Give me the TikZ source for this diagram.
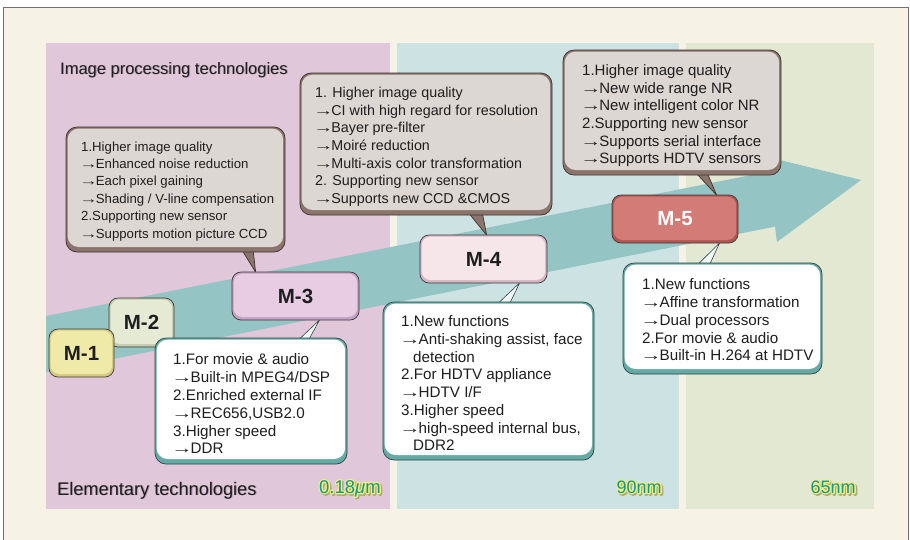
\documentclass[tikz,border=0pt]{standalone}
\usepackage{fontspec}
\usepackage{graphicx}
\setmainfont{Liberation Sans}
\usetikzlibrary{calc}
\pgfdeclarelayer{back}
\pgfdeclarelayer{tails}
\pgfsetlayers{back,tails,main}
\definecolor{cream}{HTML}{F6F2E6}
\definecolor{framegray}{HTML}{707070}
\definecolor{panelpink}{HTML}{E0C8DA}
\definecolor{panelteal}{HTML}{CCE2E3}
\definecolor{panelgreen}{HTML}{E3E8D2}
\definecolor{arrowteal}{HTML}{94C5C4}
\definecolor{grayout}{HTML}{3E322E}
\definecolor{grayband}{HTML}{8A746C}
\definecolor{grayfill}{HTML}{DDD7D4}
\definecolor{whiteout}{HTML}{2E4444}
\definecolor{whiteband}{HTML}{66AAA6}
\definecolor{tailwhite}{HTML}{F2F8F8}
\definecolor{mout}{HTML}{3A3A3A}
\definecolor{mAo}{HTML}{D6CA84}\definecolor{mAi}{HTML}{F0EAA8}
\definecolor{mBo}{HTML}{C4CCB0}\definecolor{mBi}{HTML}{E4EAD4}
\definecolor{mCo}{HTML}{C6A2C2}\definecolor{mCi}{HTML}{E7CCE3}
\definecolor{mDo}{HTML}{D6B6C2}\definecolor{mDi}{HTML}{F6E6EA}
\definecolor{mEo}{HTML}{B25654}\definecolor{mEi}{HTML}{D37B77}
\definecolor{txt}{HTML}{1E1E1E}
\definecolor{headshadow}{HTML}{A48EA0}
\definecolor{labteal}{HTML}{13968A}
\definecolor{haloY}{HTML}{F2EE84}
\definecolor{haloS}{HTML}{B0AA74}
\newcommand\strk[1]{\special{pdf:literal direct 2 Tr 2.6 w 1 j}#1\special{pdf:literal direct 0 Tr 1 w 0 j}}
\newcommand\halotxt[1]{%
  \rlap{\color{haloS}\hspace{1.5pt}\raisebox{-1.5pt}{\strk{#1}}}%
  \rlap{\color{haloY}\strk{#1}}%
  {\color{labteal}#1}}
\newcommand\shadowtxt[1]{\rlap{\color{headshadow}\hspace{0.9pt}\raisebox{-0.9pt}{#1}}{\color{txt}#1}}
\newcommand\ar{\kern-1.8pt\scalebox{1.4}[1]{→}\kern-2pt}
\tikzset{
  card/.style n args={5}{draw=#1, line width=0.7pt, fill=#2, rounded corners=#5, inner sep=0pt,
    path picture={\fill[#3, rounded corners=#5] ([shift={(1.6pt,-1.6pt)}]path picture bounding box.north west) rectangle ([shift={(-1.8pt,#4)}]path picture bounding box.south east);}},
  graycard/.style={card={grayout}{grayband}{grayfill}{5pt}{11pt}},
  whitecard/.style={card={whiteout}{whiteband}{white}{5pt}{11pt}},
  mnode/.style n args={2}{card={mout}{#1}{#2}{3pt}{9pt}, text=txt, font=\bfseries\fontsize{20.5}{24}\selectfont},
  boxtext/.style={anchor=north west, align=left, inner sep=0pt, text=txt},
  graytail/.style={fill=grayband, draw=grayout, line width=0.7pt, line join=round},
  whitetail/.style={fill=tailwhite, draw=whiteout, line width=0.6pt, line join=round},
}
\begin{document}
\begin{tikzpicture}[x=1pt,y=-1pt]
\useasboundingbox (0,0) rectangle (910,539);
\begin{pgfonlayer}{back}
\clip (0,0) rectangle (910,539);
\fill[white] (0,0) rectangle (910,539);
\draw[draw=framegray, line width=1.4pt, fill=cream] (3.5,7.5) rectangle (908.5,560);
\fill[panelpink] (46,43) rectangle (390,509);
\fill[panelteal] (397,43) rectangle (679,509);
\fill[panelgreen] (686,43) rectangle (874,509);
\fill[arrowteal] (46,316) -- (763,172.6) -- (759.5,155) -- (861,180) -- (777,242) -- (775,226.6) -- (46,372.4) -- cycle;
\end{pgfonlayer}

% headings and process labels
\node[anchor=base west, inner sep=0pt, font=\fontsize{16.5}{20}\selectfont] (h1) at (60,74) {\shadowtxt{Image processing technologies}};
\node[anchor=base west, inner sep=0pt, font=\fontsize{18.2}{22}\selectfont] (h2) at (57,495) {\shadowtxt{Elementary technologies}};
\node[anchor=base west, inner sep=0pt, font=\fontsize{18.5}{22}\selectfont] (p1) at (319,493) {\halotxt{0.18\textit{μ}m}};
\node[anchor=base west, inner sep=0pt, font=\fontsize{18}{22}\selectfont] (p2) at (616.5,493) {\halotxt{90nm}};
\node[anchor=base west, inner sep=0pt, font=\fontsize{18}{22}\selectfont] (p3) at (810.5,493) {\halotxt{65nm}};

% M nodes
\node[mnode={mBo}{mBi}, minimum width=65pt, minimum height=49pt] (M2) at (141.5,322.5) {M-2};
\node[mnode={mAo}{mAi}, minimum width=65pt, minimum height=48pt] (M1) at (81.5,353) {M-1};
\node[mnode={mCo}{mCi}, minimum width=127pt, minimum height=48pt] (M3) at (295.5,296) {M-3};
\node[mnode={mDo}{mDi}, minimum width=127pt, minimum height=48pt] (M4) at (483.5,259) {M-4};
\node[mnode={mEo}{mEi}, minimum width=126pt, minimum height=48pt, text=white] (M5) at (675,219) {M-5};

% callout boxes
\node[graycard, minimum width=219pt, minimum height=125pt] (A) at (175.5,189.5) {};
\node[graycard, minimum width=252pt, minimum height=142pt] (B) at (426,144) {};
\node[graycard, minimum width=218pt, minimum height=125pt] (C) at (672,112.5) {};
\node[whitecard, minimum width=192pt, minimum height=126pt] (D) at (251,401) {};
\node[whitecard, minimum width=211pt, minimum height=158pt] (E) at (488.5,381) {};
\node[whitecard, minimum width=199pt, minimum height=111pt] (F) at (722.5,318.5) {};

% tails
\begin{pgfonlayer}{tails}
\draw[graytail] ($(A.south west)+(174pt,6pt)$) -- ($(M3.north west)+(24pt,-0.5pt)$) -- ($(A.south west)+(187pt,6pt)$) -- cycle;
\draw[graytail] ($(B.south west)+(166pt,6pt)$) -- ($(M4.north west)+(67pt,-0.5pt)$) -- ($(B.south west)+(182pt,6pt)$) -- cycle;
\draw[graytail] ($(C.south west)+(130pt,6pt)$) -- ($(M5.north west)+(105pt,-0.5pt)$) -- ($(C.south west)+(143pt,6pt)$) -- cycle;
\draw[whitetail] ($(D.north west)+(142pt,-4pt)$) -- ($(M3.south west)+(88pt,0.5pt)$) -- ($(D.north west)+(153pt,-4pt)$) -- cycle;
\draw[whitetail] ($(E.north west)+(113pt,-4pt)$) -- ($(M4.south west)+(100pt,0.5pt)$) -- ($(E.north west)+(126pt,-4pt)$) -- cycle;
\draw[whitetail] ($(F.north west)+(73pt,-4pt)$) -- ($(M5.south west)+(108pt,0.5pt)$) -- ($(F.north west)+(86pt,-4pt)$) -- cycle;
\end{pgfonlayer}

% box texts
\node[boxtext, font=\fontsize{13.2}{17.4}\selectfont] (tA) at (81,141.3) {1.Higher image quality\\\ar Enhanced noise reduction\\\ar Each pixel gaining\\\ar Shading / V-line compensation\\2.Supporting new sensor\\\ar Supports motion picture CCD};
\node[boxtext, font=\fontsize{14.3}{17.7}\selectfont] (tB) at (315,86.9) {1. Higher image quality\\\ar CI with high regard for resolution\\\ar Bayer pre-filter\\\ar Moiré reduction\\\ar Multi-axis color transformation\\2. Supporting new sensor\\\ar Supports new CCD \&CMOS};
\node[boxtext, font=\fontsize{15}{17.6}\selectfont] (tC) at (582,64.7) {1.Higher image quality\\\ar New wide range NR\\\ar New intelligent color NR\\2.Supporting new sensor\\\ar Supports serial interface\\\ar Supports HDTV sensors};
\node[boxtext, font=\fontsize{15.2}{17.8}\selectfont] (tD) at (173,353.6) {1.For movie \& audio\\\ar Built-in MPEG4/DSP\\2.Enriched external IF\\\ar REC656,USB2.0\\3.Higher speed\\\ar DDR};
\node[boxtext, font=\fontsize{15.2}{17.7}\selectfont] (tE) at (401,315.6) {1.New functions\\\ar Anti-shaking assist, face\\\hspace*{12pt}detection\\2.For HDTV appliance\\\ar HDTV I/F\\3.Higher speed\\\ar high-speed internal bus,\\\hspace*{12pt}DDR2};
\node[boxtext, font=\fontsize{15.2}{17.75}\selectfont] (tF) at (642,278.6) {1.New functions\\\ar Affine transformation\\\ar Dual processors\\2.For movie \& audio\\\ar Built-in H.264 at HDTV};
\end{tikzpicture}
\end{document}
